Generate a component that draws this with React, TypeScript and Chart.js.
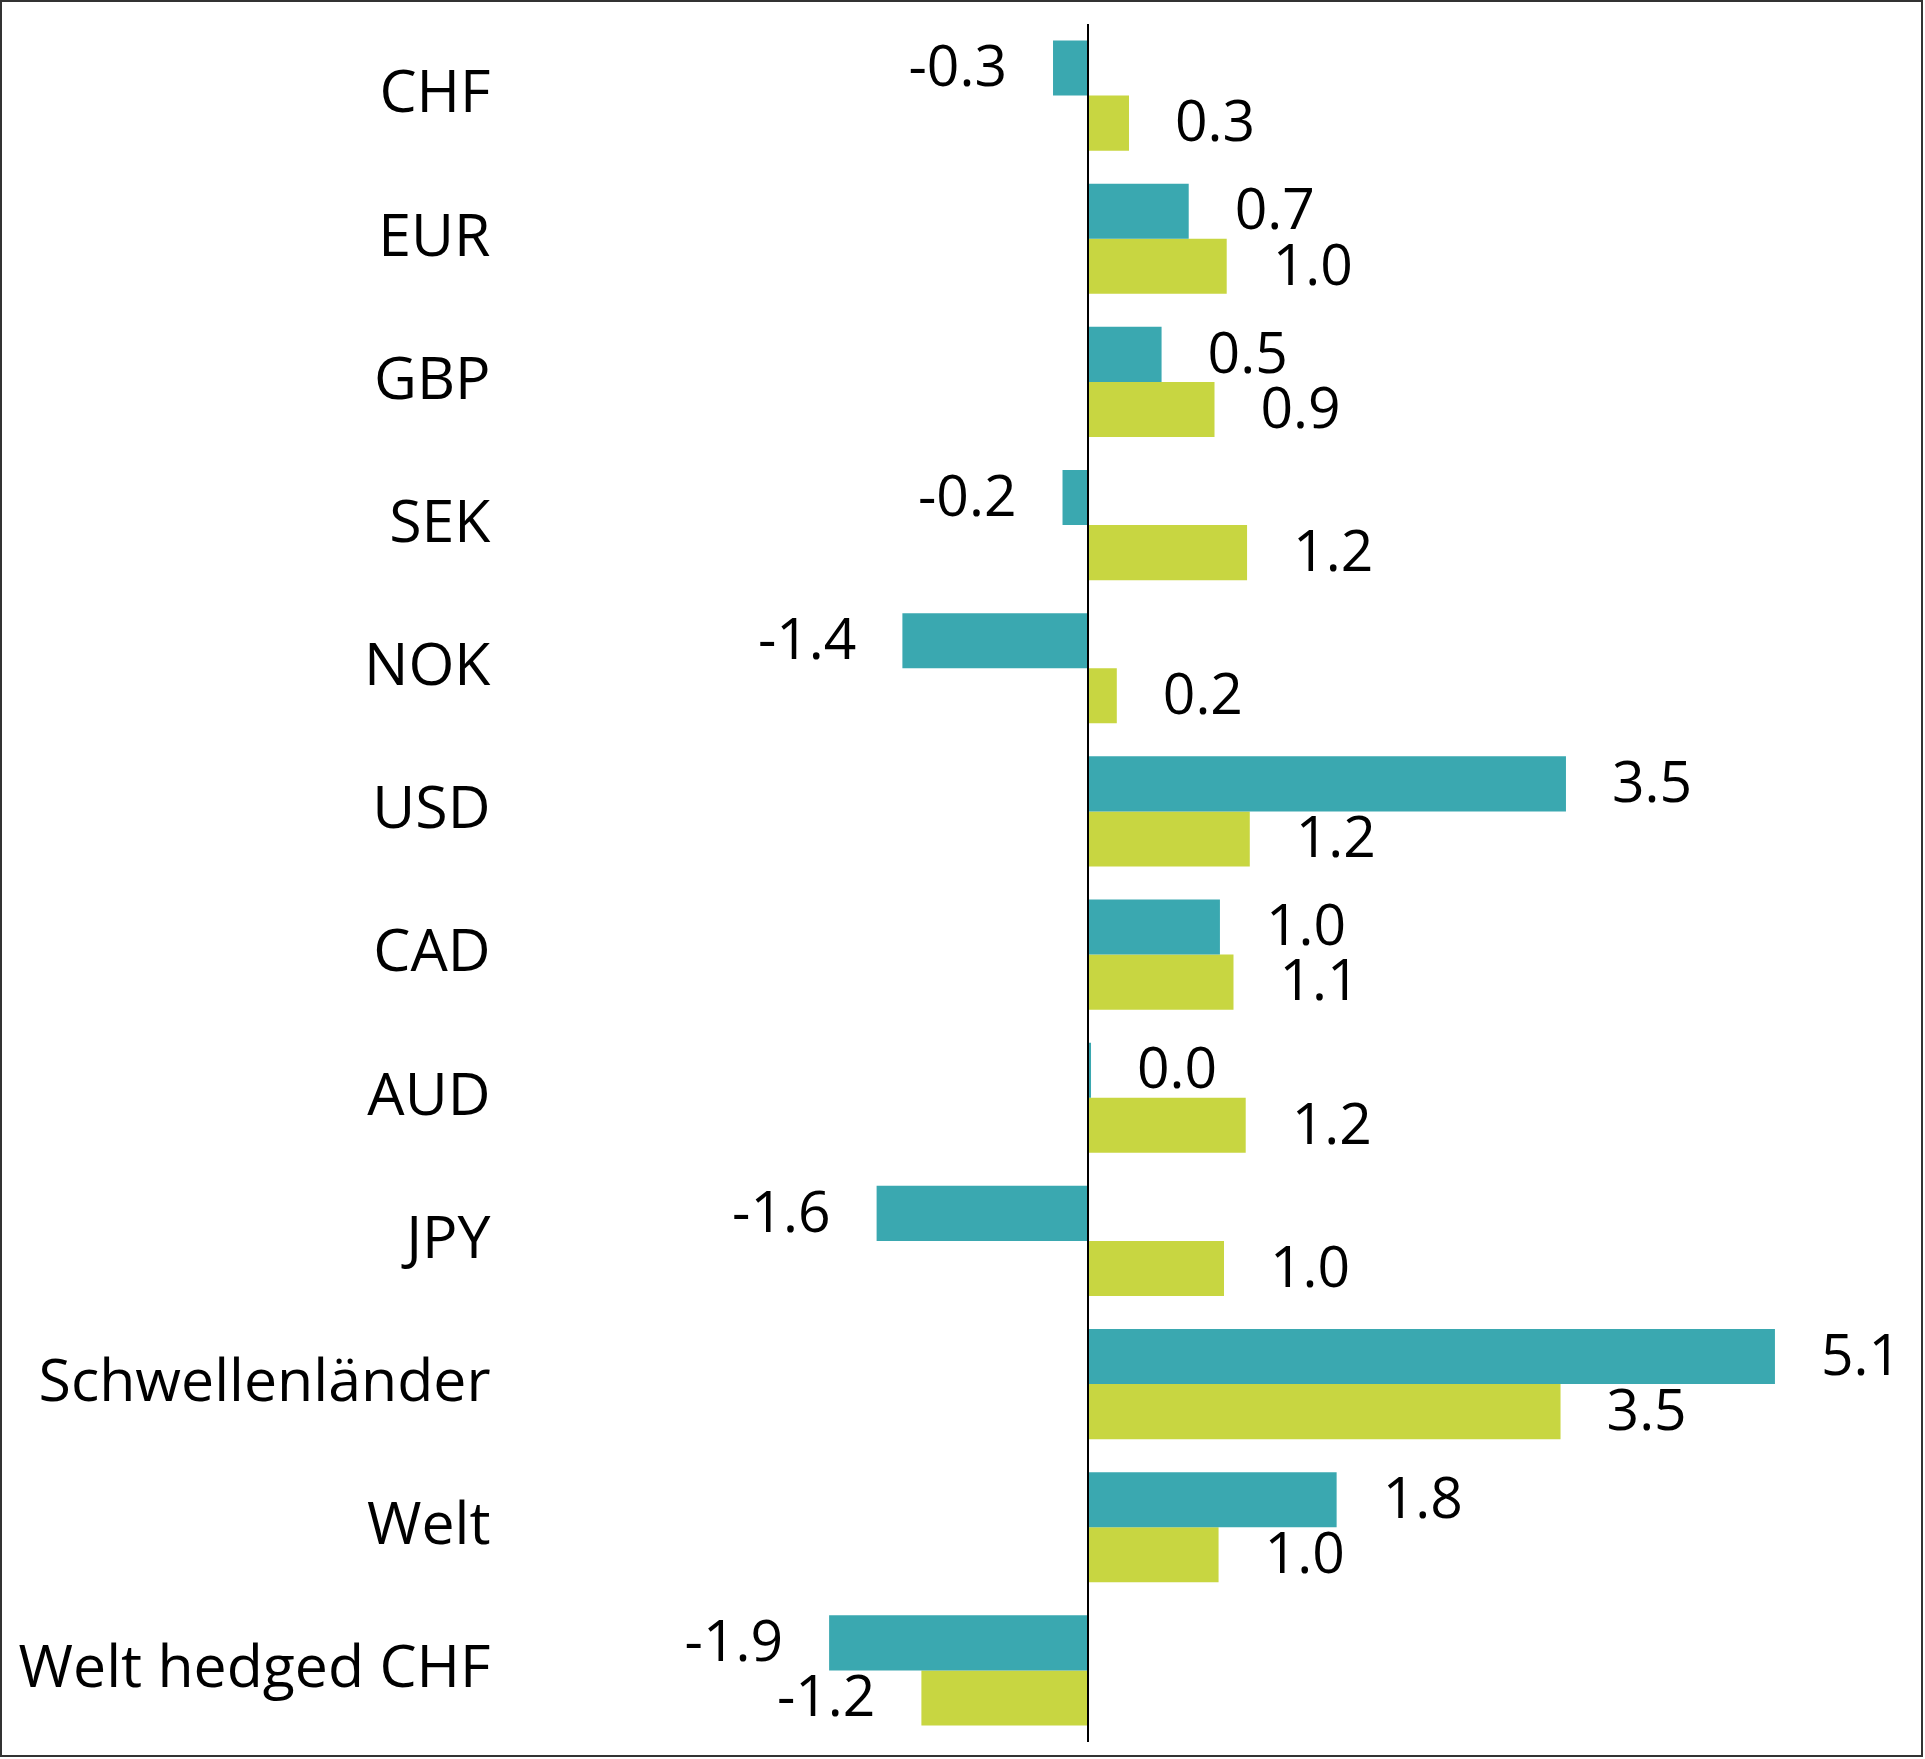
import React, { useEffect, useRef } from "react";
import { Chart, registerables } from "chart.js";

Chart.register(...registerables);

// ---- data ----
const categories = [
  "CHF",
  "EUR",
  "GBP",
  "SEK",
  "NOK",
  "USD",
  "CAD",
  "AUD",
  "JPY",
  "Schwellenländer",
  "Welt",
  "Welt hedged CHF",
];
const seriesTeal = [-0.26, 0.74, 0.54, -0.19, -1.37, 3.52, 0.97, 0.02, -1.56, 5.06, 1.83, -1.91];
const seriesLime = [0.3, 1.02, 0.93, 1.17, 0.21, 1.19, 1.07, 1.16, 1.0, 3.48, 0.96, -1.23];
const xMin = -4;
const xMax = 6;

// ---- styles ----
const TEAL = "#3AA8B0";
const LIME = "#C8D641";
const FONT = "'Open Sans', 'Noto Sans', sans-serif";
const LABEL_GAP = 46;

export default function App() {
  const ref = useRef<HTMLCanvasElement>(null);

  useEffect(() => {
    const canvas = ref.current;
    if (!canvas) return;

    const zeroLine = {
      id: "zeroLine",
      afterDatasetsDraw(chart: any) {
        const { ctx, chartArea, scales } = chart;
        const x = Math.round(scales.x.getPixelForValue(0));
        ctx.save();
        ctx.strokeStyle = "#000";
        ctx.lineWidth = 2;
        ctx.beginPath();
        ctx.moveTo(x, chartArea.top);
        ctx.lineTo(x, chartArea.bottom);
        ctx.stroke();
        ctx.restore();
      },
    };

    const valueLabels = {
      id: "valueLabels",
      afterDatasetsDraw(chart: any) {
        const { ctx } = chart;
        ctx.save();
        ctx.fillStyle = "#000";
        ctx.font = `57px ${FONT}`;
        ctx.textBaseline = "middle";
        chart.data.datasets.forEach((ds: any, di: number) => {
          const meta = chart.getDatasetMeta(di);
          meta.data.forEach((el: any, i: number) => {
            const v = ds.data[i] as number;
            const txt = v.toFixed(1);
            if (v >= 0) {
              ctx.textAlign = "left";
              ctx.fillText(txt, el.x + LABEL_GAP, el.y + 2);
            } else {
              ctx.textAlign = "right";
              ctx.fillText(txt, el.x - LABEL_GAP, el.y + 2);
            }
          });
        });
        ctx.restore();
      },
    };

    const chart = new Chart(canvas, {
      type: "bar",
      data: {
        labels: categories,
        datasets: [
          {
            label: "Serie 1",
            data: seriesTeal,
            backgroundColor: TEAL,
            borderWidth: 0,
            barPercentage: 1,
            categoryPercentage: 0.77,
          },
          {
            label: "Serie 2",
            data: seriesLime,
            backgroundColor: LIME,
            borderWidth: 0,
            barPercentage: 1,
            categoryPercentage: 0.77,
          },
        ],
      },
      options: {
        indexAxis: "y",
        animation: false,
        responsive: false,
        maintainAspectRatio: false,
        layout: { padding: { left: 0, right: 22.5, top: 24, bottom: 17 } },
        plugins: {
          legend: { display: false },
          tooltip: { enabled: false },
          title: { display: false },
        },
        scales: {
          x: {
            type: "linear",
            min: xMin,
            max: xMax,
            display: false,
          },
          y: {
            type: "category",
            position: "left",
            grid: { display: false, drawTicks: false },
            border: { display: false },
            ticks: {
              color: "#000",
              padding: 55,
              autoSkip: false,
              font: { family: FONT, size: 59 },
            },
            afterFit: (scale: any) => {
              scale.width = 545.5;
              scale.paddingTop = 0;
              scale.paddingBottom = 0;
            },
          },
        },
      },
      plugins: [zeroLine, valueLabels],
    });

    return () => chart.destroy();
  }, []);

  return (
    <div
      style={{
        position: "absolute",
        left: 0,
        top: 0,
        width: 1925,
        height: 1759,
        background: "#fff",
      }}
    >
      <canvas ref={ref} width={1925} height={1759} style={{ display: "block" }} />
      <div
        style={{
          position: "absolute",
          left: 0,
          top: 0,
          width: 1923,
          height: 1757,
          boxSizing: "border-box",
          border: "2px solid #333",
          pointerEvents: "none",
        }}
      />
    </div>
  );
}
